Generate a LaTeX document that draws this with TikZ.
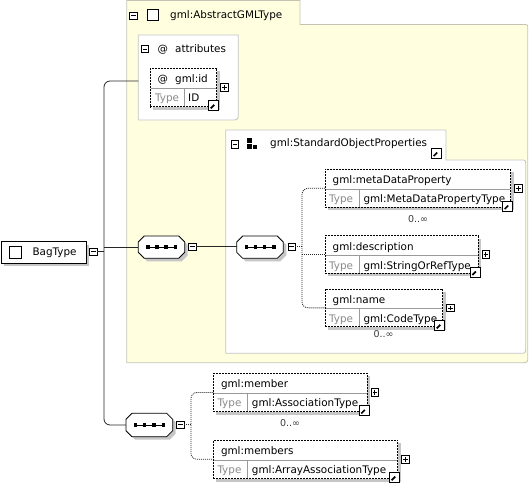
\documentclass[tikz,border=0pt]{standalone}
\usepackage{fontspec}
\setmainfont{DejaVu Sans}
\usetikzlibrary{calc}
\definecolor{yel}{HTML}{FFFFE0}
\definecolor{yelborder}{HTML}{C4C4B4}
\definecolor{boxborder}{HTML}{C4C4C4}
\definecolor{shadowc}{HTML}{C6C6C6}
\definecolor{typegray}{HTML}{8A8A8A}
\definecolor{divgray}{HTML}{9A9A9A}
\definecolor{occgray}{HTML}{3A3A3A}
\tikzset{
  elem/.style={draw=black, fill=white, line width=0.85pt, dash pattern=on 2pt off 1pt, inner sep=0pt, outer sep=0pt},
  divline/.style={draw=divgray, line width=0.7pt},
  txt/.style={inner sep=0pt, anchor=base west},
  conn/.style={draw=black!85, line width=0.8pt},
  dotc/.style={draw=black!85, line width=0.8pt, dash pattern=on 1pt off 1pt},
  pmbox/.style={draw=black, fill=white, line width=0.7pt, minimum size=7.5pt, inner sep=0pt, outer sep=0pt,
    path picture={\draw[line width=0.7pt] ([xshift=-2.3pt]path picture bounding box.center) -- ([xshift=2.3pt]path picture bounding box.center);}},
  plusbox/.style={pmbox,
    path picture={\draw[line width=0.7pt] ([xshift=-2.3pt]path picture bounding box.center) -- ([xshift=2.3pt]path picture bounding box.center)
      ([yshift=-2.3pt]path picture bounding box.center) -- ([yshift=2.3pt]path picture bounding box.center);}},
  linkbox/.style={draw=black, fill=white, line width=0.8pt, minimum size=10pt, inner sep=0pt, outer sep=0pt,
    path picture={
      \draw[line width=1.7pt] ([shift={(2pt,2pt)}]path picture bounding box.south west) -- ([shift={(-4pt,-4pt)}]path picture bounding box.north east);
      \fill ([shift={(-1.5pt,-1.5pt)}]path picture bounding box.north east) -- ([shift={(-1.5pt,-7.2pt)}]path picture bounding box.north east) -- ([shift={(-7.2pt,-1.5pt)}]path picture bounding box.north east) -- cycle;}},
  chk/.style={draw=black, fill=white, line width=0.8pt, inner sep=0pt, outer sep=0pt},
  occ/.style={inner sep=0pt, text=occgray, font=\fontsize{9.5}{10}\selectfont},
}
% #1 name, #2 x1, #3 y1, #4 x2, #5 ydiv, #6 y2, #7 xdiv, #8 title, #9 type
\newcommand{\elembox}[9]{%
  \fill[shadowc] (#2+3,#3+3) rectangle (#4+3,#6+3);
  \node[elem, anchor=north west, minimum width={#4pt-#2pt}, minimum height={#6pt-#3pt}] (#1) at (#2,#3) {};
  \draw[divline] (#2+0.8,#5) -- (#4-0.8,#5) (#7,#5) -- (#7,#6-0.8);
  \node[txt] at (#2+7.5,#5-5.5) {#8};
  \node[txt, text=typegray] at (#2+4,#5+13.5) {Type};
  \node[txt] at (#7+4,#5+13.5) {#9};
  \node[plusbox] (#1-p) at (#4+7.5,{(#3+#6)/2}) {};
  \node[linkbox, anchor=north west] (#1-l) at (#4-8,#6-6.3) {};
}
% #1 name, #2 x1, #3 y1, #4 x2, #5 y2
\newcommand{\seqsym}[5]{%
  \node[inner sep=0pt, outer sep=0pt, anchor=north west, minimum width={#4pt-#2pt}, minimum height={#5pt-#3pt}] (#1) at (#2,#3) {};
  \begin{scope}[shift={(3,3)}]
    \fill[shadowc] (#2+6,#3) -- (#4-6,#3) -- (#4,#3+6) -- (#4,#5-6) -- (#4-6,#5) -- (#2+6,#5) -- (#2,#5-6) -- (#2,#3+6) -- cycle;
  \end{scope}
  \filldraw[fill=white, draw=black, line width=0.8pt] (#2+6,#3) -- (#4-6,#3) -- (#4,#3+6) -- (#4,#5-6) -- (#4-6,#5) -- (#2+6,#5) -- (#2,#5-6) -- (#2,#3+6) -- cycle;
  \draw[line width=0.8pt] (#2+9,{(#3+#5)/2}) -- (#4-9,{(#3+#5)/2});
  \foreach \k in {0,1,2,3} {\fill ({#2+9.5+\k*(#4-#2-19)/3-1.7},{(#3+#5)/2-1.7}) rectangle ++(3.4,3.4);}
}
\begin{document}
\begin{tikzpicture}[x=1pt,y=-1pt, font=\fontsize{10.4}{12}\selectfont]
\useasboundingbox (0,0) rectangle (531,483);

% ---- yellow complex type region
\filldraw[fill=yel, draw=yelborder, line width=0.8pt]
  (126.7,0.4) -- (300,0.4) -- (300,24.5) -- (523.5,24.5) .. controls (527.8,24.5) .. (527.8,28.8)
  -- (527.8,356.5) .. controls (527.8,362.7) .. (521.6,362.7) -- (126.7,362.7) -- cycle;
\node[pmbox] (mh) at (133.4,15.6) {};
\node[chk, minimum width=11pt, minimum height=11pt, anchor=north west] (chkh) at (147,9) {};
\node[txt] (th) at (170,18.6) {gml:AbstractGMLType};

% ---- attributes
\filldraw[fill=white, draw=boxborder, line width=0.8pt]
  (138.3,35) -- (238.3,35) -- (238.3,112) .. controls (238.3,120) .. (230.3,120) -- (138.3,120) -- cycle;
\node[inner sep=0pt, outer sep=0pt, anchor=north west, minimum width=100pt, minimum height=85pt] (attr) at (138.3,35) {};
\node[pmbox] (ma) at (145,49) {};
\node[txt] at (157.5,52.3) {@};
\node[txt] at (175,52.3) {attributes};

% gml:id
\fill[shadowc] (153,71.3) rectangle (219.7,109.7);
\node[elem, anchor=north west, minimum width=66.7pt, minimum height=38.4pt] (gid) at (150,68.3) {};
\draw[divline] (150.8,88.3) -- (215.9,88.3) (184.3,88.3) -- (184.3,105.9);
\node[txt] at (157.5,82.8) {@};
\node[txt] at (175,82.8) {gml:id};
\node[txt, text=typegray] at (155,101.5) {Type};
\node[txt] at (188,101.5) {ID};
\node[plusbox] (gid-p) at (224.5,87.5) {};
\node[linkbox, anchor=north west] (gid-l) at (208.7,100.4) {};

% ---- StandardObjectProperties group
\filldraw[fill=white, draw=boxborder, line width=0.8pt]
  (225.7,130) -- (446,130) -- (446,160) -- (520.7,160) .. controls (525.7,160) .. (525.7,165)
  -- (525.7,347.3) .. controls (525.7,353.3) .. (519.7,353.3) -- (225.7,353.3) -- cycle;
\node[pmbox] (msop) at (234.8,144.4) {};
\fill (247,138.2) rectangle (251.6,142.8);
\fill (247,144.2) rectangle (251.6,148.6);
\fill (253.2,145) rectangle (257.4,148.6);
\node[txt] (tsop) at (270,146.6) {gml:StandardObjectProperties};
\node[linkbox, anchor=north west] (sop-l) at (431.7,148) {};

% ---- element boxes
\elembox{meta}{325}{169.3}{510.7}{189.3}{207.3}{359.3}{gml:metaDataProperty}{gml:MetaDataPropertyType}
\node[occ] at (418,219) {0..∞};
\elembox{desc}{325}{235.7}{478.3}{255.7}{273.3}{359.3}{gml:description}{gml:StringOrRefType}
\elembox{nm}{325}{289}{442.7}{308.5}{326.7}{359.3}{gml:name}{gml:CodeType}
\node[occ] at (383.5,334.5) {0..∞};
\elembox{mem}{213.3}{373.3}{367.3}{393.3}{411.7}{247.7}{gml:member}{gml:AssociationType}
\node[occ] at (290,422.7) {0..∞};
\elembox{mems}{213.3}{440}{397.7}{460}{478.5}{247.7}{gml:members}{gml:ArrayAssociationType}

% ---- sequences
\seqsym{seq1}{138.3}{236}{184.7}{258.3}
\node[pmbox] (m1) at (192.3,246.8) {};
\seqsym{seq2}{236.7}{236}{283.3}{258.3}
\node[pmbox] (m2) at (291.7,246.8) {};
\seqsym{seq3}{126}{413.3}{172.7}{436.7}
\node[pmbox] (m3) at (180.5,424.8) {};

% ---- BagType
\fill[shadowc] (4,244.7) rectangle (89,266.3);
\node[draw=black, fill=white, line width=0.9pt, inner sep=0pt, outer sep=0pt, anchor=north west, minimum width=85pt, minimum height=21.6pt] (bag) at (1,241.7) {};
\node[chk, minimum width=12pt, minimum height=12pt, anchor=north west] (chkb) at (9.5,246.7) {};
\node[txt] at (32.3,255.2) {BagType};
\node[pmbox] (m0) at (93.3,251.7) {};

% ---- connectors
\coordinate (jt) at (104,81);
\draw[conn] (m0.east) -- (m0.east -| jt);
\draw[conn, rounded corners=6pt] (jt -| attr.west) -- (jt) -- (jt |- seq3.west) -- (seq3.west);
\draw[conn] (jt |- seq1.west) -- (seq1.west);
\draw[conn] (m1.east) -- (m1.east -| seq2.west);

\path (desc.west) ++(-23,0) coordinate (v2);
\draw[dotc] (m2.east) -- (m2.east -| v2);
\draw[dotc, rounded corners=6pt] (meta.west) -| (v2) |- (nm.west);
\draw[dotc] (v2) -- (desc.west);

\path (m3.east) ++(6.7,0) coordinate (v3);
\draw[dotc] (m3.east) -- (v3);
\draw[dotc, rounded corners=6pt] (mem.west) -| (v3) |- (mems.west);
\end{tikzpicture}
\end{document}
